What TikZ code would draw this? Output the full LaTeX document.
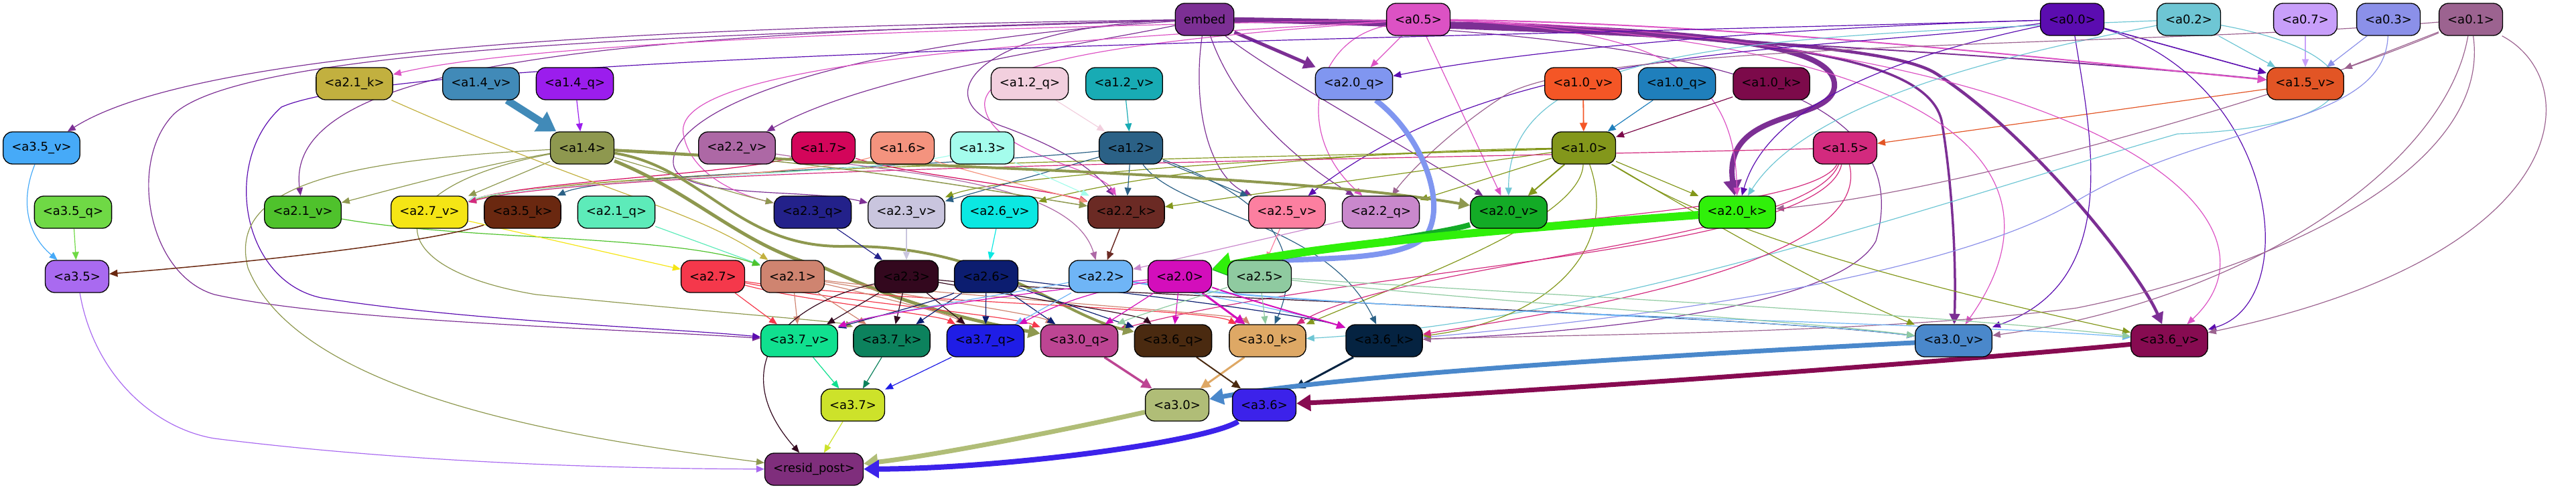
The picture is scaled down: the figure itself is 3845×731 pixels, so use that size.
\documentclass[tikz,border=0pt]{standalone}
\usepackage{fontspec}
\setmainfont{DejaVu Sans}
\usetikzlibrary{arrows.meta}
\pgfdeclarelayer{bg}
\pgfsetlayers{bg,main}
\definecolor{cembed}{HTML}{7C2F94}
\definecolor{ca05}{HTML}{DC52C4}
\definecolor{ca00}{HTML}{5B0CB0}
\definecolor{ca02}{HTML}{6EC6D4}
\definecolor{ca07}{HTML}{C89FFA}
\definecolor{ca03}{HTML}{8B90E9}
\definecolor{ca01}{HTML}{9C6390}
\definecolor{ca21k}{HTML}{C2B03F}
\definecolor{ca14v}{HTML}{418AB8}
\definecolor{ca14q}{HTML}{9B1DED}
\definecolor{ca12q}{HTML}{F2CFDE}
\definecolor{ca12v}{HTML}{18ABB4}
\definecolor{ca20q}{HTML}{8096F0}
\definecolor{ca10v}{HTML}{F45626}
\definecolor{ca10q}{HTML}{1F7FBC}
\definecolor{ca10k}{HTML}{7C0A4A}
\definecolor{ca15v}{HTML}{E25525}
\definecolor{ca35v}{HTML}{46AAF8}
\definecolor{ca14}{HTML}{8E984F}
\definecolor{ca22v}{HTML}{AD68A5}
\definecolor{ca17}{HTML}{D3055A}
\definecolor{ca16}{HTML}{F4937E}
\definecolor{ca13}{HTML}{A4FCEC}
\definecolor{ca12}{HTML}{2B6186}
\definecolor{ca10}{HTML}{83971B}
\definecolor{ca15}{HTML}{D32A7E}
\definecolor{ca35q}{HTML}{6FD945}
\definecolor{ca21v}{HTML}{4FC22C}
\definecolor{ca27v}{HTML}{F5E515}
\definecolor{ca35k}{HTML}{6A2810}
\definecolor{ca21q}{HTML}{5DEBB9}
\definecolor{ca23q}{HTML}{23218A}
\definecolor{ca23v}{HTML}{C9C5DE}
\definecolor{ca26v}{HTML}{0BE8E2}
\definecolor{ca22k}{HTML}{6B2A24}
\definecolor{ca25v}{HTML}{FC7FA0}
\definecolor{ca22q}{HTML}{C988CC}
\definecolor{ca20v}{HTML}{13AB26}
\definecolor{ca20k}{HTML}{30F00A}
\definecolor{ca35}{HTML}{A96AF0}
\definecolor{ca27}{HTML}{F5384B}
\definecolor{ca21}{HTML}{CF8470}
\definecolor{ca23}{HTML}{33081E}
\definecolor{ca26}{HTML}{0C1D70}
\definecolor{ca22}{HTML}{6FB5F6}
\definecolor{ca20}{HTML}{D30EBB}
\definecolor{ca25}{HTML}{8FCAA0}
\definecolor{ca37v}{HTML}{10E08F}
\definecolor{ca37k}{HTML}{0C825D}
\definecolor{ca37q}{HTML}{1F1DE6}
\definecolor{ca30q}{HTML}{BD4593}
\definecolor{ca36q}{HTML}{4A2A10}
\definecolor{ca30k}{HTML}{DEA865}
\definecolor{ca36k}{HTML}{052341}
\definecolor{ca30v}{HTML}{4A88CB}
\definecolor{ca36v}{HTML}{870B51}
\definecolor{ca37}{HTML}{CDE22A}
\definecolor{ca30}{HTML}{B0BD77}
\definecolor{ca36}{HTML}{3C22EA}
\definecolor{cresid}{HTML}{7F2E7C}
\tikzset{
  nd/.style={draw=black, line width=1.3pt, rounded corners=14pt, minimum height=48pt,
    inner xsep=12.5pt, inner ysep=0pt, font=\fontsize{18}{21}\selectfont, text=black},
  ed/.style 2 args={draw=#1, line width=#2, -{Triangle[length=10pt 1.6, width=7pt 2.4]}},
}
\begin{document}
\begin{tikzpicture}[x=1pt,y=-1pt]
\useasboundingbox (0,0) rectangle (3845,731);
% row 1
\node[nd, fill=cembed] (embed) at (1798,29) {embed};
\node[nd, fill=ca05] (a05) at (2117,29) {<a0.5>};
\node[nd, fill=ca00] (a00) at (3093,29) {<a0.0>};
\node[nd, fill=ca02] (a02) at (3267,29) {<a0.2>};
\node[nd, fill=ca07] (a07) at (3441,29) {<a0.7>};
\node[nd, fill=ca03] (a03) at (3565,29) {<a0.3>};
\node[nd, fill=ca01] (a01) at (3688,29) {<a0.1>};
% row 2
\node[nd, fill=ca21k] (a21k) at (529,125) {<a2.1\_k>};
\node[nd, fill=ca14v] (a14v) at (718,125) {<a1.4\_v>};
\node[nd, fill=ca14q] (a14q) at (858,125) {<a1.4\_q>};
\node[nd, fill=ca12q] (a12q) at (1537,125) {<a1.2\_q>};
\node[nd, fill=ca12v] (a12v) at (1678,125) {<a1.2\_v>};
\node[nd, fill=ca20q] (a20q) at (2021,125) {<a2.0\_q>};
\node[nd, fill=ca10v] (a10v) at (2363,125) {<a1.0\_v>};
\node[nd, fill=ca10q] (a10q) at (2503,125) {<a1.0\_q>};
\node[nd, fill=ca10k] (a10k) at (2644,125) {<a1.0\_k>};
\node[nd, fill=ca15v] (a15v) at (3441,125) {<a1.5\_v>};
% row 3
\node[nd, fill=ca35v] (a35v) at (62,221) {<a3.5\_v>};
\node[nd, fill=ca14] (a14) at (869,221) {<a1.4>};
\node[nd, fill=ca22v] (a22v) at (1100,221) {<a2.2\_v>};
\node[nd, fill=ca17] (a17) at (1229,221) {<a1.7>};
\node[nd, fill=ca16] (a16) at (1347,221) {<a1.6>};
\node[nd, fill=ca13] (a13) at (1466,221) {<a1.3>};
\node[nd, fill=ca12] (a12) at (1688,221) {<a1.2>};
\node[nd, fill=ca10] (a10) at (2364,221) {<a1.0>};
\node[nd, fill=ca15] (a15) at (2754,221) {<a1.5>};
% row 4
\node[nd, fill=ca35q] (a35q) at (109,317) {<a3.5\_q>};
\node[nd, fill=ca21v] (a21v) at (452,317) {<a2.1\_v>};
\node[nd, fill=ca27v] (a27v) at (641,317) {<a2.7\_v>};
\node[nd, fill=ca35k] (a35k) at (780,317) {<a3.5\_k>};
\node[nd, fill=ca21q] (a21q) at (920,317) {<a2.1\_q>};
\node[nd, fill=ca23q] (a23q) at (1213,317) {<a2.3\_q>};
\node[nd, fill=ca23v] (a23v) at (1353,317) {<a2.3\_v>};
\node[nd, fill=ca26v] (a26v) at (1492,317) {<a2.6\_v>};
\node[nd, fill=ca22k] (a22k) at (1681,317) {<a2.2\_k>};
\node[nd, fill=ca25v] (a25v) at (1921,317) {<a2.5\_v>};
\node[nd, fill=ca22q] (a22q) at (2061,317) {<a2.2\_q>};
\node[nd, fill=ca20v] (a20v) at (2252,317) {<a2.0\_v>};
\node[nd, fill=ca20k] (a20k) at (2593,317) {<a2.0\_k>};
% row 5
\node[nd, fill=ca35] (a35) at (115,413) {<a3.5>};
\node[nd, fill=ca27] (a27) at (1064,413) {<a2.7>};
\node[nd, fill=ca21] (a21) at (1183,413) {<a2.1>};
\node[nd, fill=ca23] (a23) at (1353,413) {<a2.3>};
\node[nd, fill=ca26] (a26) at (1472,413) {<a2.6>};
\node[nd, fill=ca22] (a22) at (1643,413) {<a2.2>};
\node[nd, fill=ca20] (a20) at (1761,413) {<a2.0>};
\node[nd, fill=ca25] (a25) at (1880,413) {<a2.5>};
% row 6
\node[nd, fill=ca37v] (a37v) at (1193,509) {<a3.7\_v>};
\node[nd, fill=ca37k] (a37k) at (1331,509) {<a3.7\_k>};
\node[nd, fill=ca37q] (a37q) at (1471,509) {<a3.7\_q>};
\node[nd, fill=ca30q] (a30q) at (1611,509) {<a3.0\_q>};
\node[nd, fill=ca36q] (a36q) at (1751,509) {<a3.6\_q>};
\node[nd, fill=ca30k] (a30k) at (1892,509) {<a3.0\_k>};
\node[nd, fill=ca36k] (a36k) at (2066,509) {<a3.6\_k>};
\node[nd, fill=ca30v] (a30v) at (2916,509) {<a3.0\_v>};
\node[nd, fill=ca36v] (a36v) at (3238,509) {<a3.6\_v>};
% row 7-8
\node[nd, fill=ca37] (a37) at (1273,605) {<a3.7>};
\node[nd, fill=ca30] (a30) at (1757,605) {<a3.0>};
\node[nd, fill=ca36] (a36) at (1887,605) {<a3.6>};
\node[nd, fill=cresid] (resid) at (1215,701) {<resid\_post>};

\begin{pgfonlayer}{bg}
% into a1.5_v
\draw[ed={cembed}{2pt}] (embed) .. controls (2400,45) and (3050,85) .. (a15v);
\draw[ed={ca05}{2pt}] (a05) .. controls (2600,35) and (3080,90) .. (a15v);
\draw[ed={ca00}{1.6pt}] (a00) -- (a15v);
\draw[ed={ca02}{1.2pt}] (a02) -- (a15v);
\draw[ed={ca07}{1.2pt}] (a07) -- (a15v);
\draw[ed={ca03}{1.2pt}] (a03) -- (a15v);
\draw[ed={ca01}{1.2pt}] (a01) -- (a15v);
\draw[ed={ca15v}{1.2pt}] (a15v) -- (a15);
% embed thick
\draw[ed={cembed}{5pt}] (embed) -- (a20q);
\draw[ed={cembed}{8pt}] (embed) .. controls (2450,40) and (2745,50) .. (2738,130) .. controls (2732,185) and (2570,160) .. (a20k);
\draw[ed={cembed}{4.5pt}] (embed) .. controls (2500,50) and (2820,65) .. (2890,110) .. controls (3030,200) and (3190,400) .. (a36v);
\draw[ed={cembed}{3.5pt}] (embed) .. controls (2500,45) and (2870,60) .. (2898,180) .. controls (2915,280) and (2920,400) .. (a30v);
% embed thin
\draw[ed={cembed}{1.2pt}] (embed) .. controls (1000,40) and (300,70) .. (a35v);
\draw[ed={cembed}{1.2pt}] (embed) .. controls (1000,50) and (420,80) .. (a21v);
\draw[ed={cembed}{1.2pt}] (embed) .. controls (1600,70) and (1300,110) .. (a22v);
\draw[ed={cembed}{1.2pt}] (embed) .. controls (1450,40) and (1380,150) .. (1500,190) .. controls (1580,220) and (1630,250) .. (a22k);
\draw[ed={cembed}{1.2pt}] (embed) .. controls (1780,150) and (1800,260) .. (a25v);
\draw[ed={cembed}{1.2pt}] (embed) .. controls (1840,150) and (1920,230) .. (a22q);
\draw[ed={cembed}{1.2pt}] (embed) .. controls (1900,110) and (2100,220) .. (a20v);
\draw[ed={cembed}{1.2pt}] (embed) .. controls (1300,60) and (1010,150) .. (1005,240) .. controls (1000,300) and (1200,280) .. (a23v);
\draw[ed={cembed}{1.2pt}] (embed) .. controls (1200,50) and (380,60) .. (260,170) .. controls (190,240) and (220,410) .. (320,440) .. controls (500,480) and (900,490) .. (a37v);
\draw[ed={cembed}{1.2pt}] (embed) .. controls (2600,50) and (2860,150) .. (2800,360) .. controls (2740,470) and (2300,500) .. (a36k);
% a0.5
\draw[ed={ca05}{1.2pt}] (a05) -- (a20q);
\draw[ed={ca05}{1.2pt}] (a05) .. controls (1960,60) and (1930,200) .. (a22q);
\draw[ed={ca05}{1.2pt}] (a05) -- (a20v);
\draw[ed={ca05}{1.2pt}] (a05) .. controls (2500,45) and (2590,120) .. (a20k);
\draw[ed={ca05}{1.2pt}] (a05) .. controls (1500,40) and (800,60) .. (a21k);
\draw[ed={ca05}{1.2pt}] (a05) .. controls (1600,60) and (1000,90) .. (1020,200) .. controls (1030,260) and (1100,290) .. (a23q);
\draw[ed={ca05}{1.2pt}] (a05) .. controls (1700,60) and (1460,90) .. (1470,160) .. controls (1480,230) and (1640,250) .. (a22k);
\draw[ed={ca05}{1.2pt}] (a05) .. controls (2900,60) and (3100,250) .. (a30v);
\draw[ed={ca05}{1.2pt}] (a05) .. controls (3150,60) and (3430,330) .. (a36v);
% a0.0
\draw[ed={ca00}{1.2pt}] (a00) .. controls (2700,40) and (2300,70) .. (a20q);
\draw[ed={ca00}{1.2pt}] (a00) .. controls (2700,80) and (2250,60) .. (a25v);
\draw[ed={ca00}{1.2pt}] (a00) .. controls (2850,80) and (2640,150) .. (a20k);
\draw[ed={ca00}{1.2pt}] (a00) .. controls (3120,200) and (3170,420) .. (a30v);
\draw[ed={ca00}{1.2pt}] (a00) .. controls (3400,120) and (3440,450) .. (a36v);
\draw[ed={ca00}{1.2pt}] (a00) .. controls (2000,60) and (600,80) .. (420,160) .. controls (330,240) and (360,420) .. (480,445) .. controls (700,480) and (1000,490) .. (a37v);
% a0.2, a0.3, a0.1
\draw[ed={ca02}{1.2pt}] (a02) .. controls (2600,55) and (2250,70) .. (a20v);
\draw[ed={ca02}{1.2pt}] (a02) .. controls (3000,80) and (2700,150) .. (a20k);
\draw[ed={ca02}{1.2pt}] (a02) .. controls (3550,80) and (3560,190) .. (3250,200) .. controls (2900,300) and (2400,480) .. (a30k);
\draw[ed={ca03}{1.2pt}] (a03) .. controls (3560,190) and (3300,180) .. (3100,300) .. controls (2900,420) and (2400,480) .. (a36k);
\draw[ed={ca01}{1.2pt}] (a01) .. controls (3400,150) and (2900,290) .. (a20k);
\draw[ed={ca01}{1.2pt}] (a01) .. controls (3200,70) and (2400,60) .. (2250,140) .. controls (2170,190) and (2100,260) .. (a22q);
\draw[ed={ca01}{1.2pt}] (a01) .. controls (3650,250) and (3350,450) .. (a30v);
\draw[ed={ca01}{1.2pt}] (a01) .. controls (3860,120) and (3850,380) .. (a36v);
\draw[ed={ca01}{1.2pt}] (a01) .. controls (3720,250) and (3400,400) .. (3100,460) .. controls (2800,500) and (2300,500) .. (a36k);
% a1.0
\draw[ed={ca10v}{1.8pt}] (a10v) -- (a10);
\draw[ed={ca10q}{1.2pt}] (a10q) -- (a10);
\draw[ed={ca10k}{1.2pt}] (a10k) -- (a10);
\draw[ed={ca10}{2pt}] (a10) -- (a20v);
\draw[ed={ca10}{1.2pt}] (a10) -- (a22q);
\draw[ed={ca10}{1.2pt}] (a10) -- (a20k);
\draw[ed={ca10}{1.2pt}] (a10) -- (a22k);
\draw[ed={ca10}{1.2pt}] (a10) .. controls (2000,225) and (1700,260) .. (a26v);
\draw[ed={ca10}{1.2pt}] (a10) .. controls (2000,230) and (1500,260) .. (a23v);
\draw[ed={ca10}{1.2pt}] (a10) .. controls (2000,235) and (900,245) .. (a27v);
\draw[ed={ca10}{1.2pt}] (a10) .. controls (2360,330) and (2100,420) .. (a30k);
\draw[ed={ca10}{1.2pt}] (a10) .. controls (2420,380) and (2300,480) .. (a36k);
\draw[ed={ca10}{1.2pt}] (a10) .. controls (2500,300) and (2700,420) .. (a30v);
\draw[ed={ca10}{1.2pt}] (a10) .. controls (2480,290) and (2600,370) .. (a36v);
% a1.2
\draw[ed={ca12v}{1.2pt}] (a12v) -- (a12);
\draw[ed={ca12q}{1.2pt}] (a12q) -- (a12);
\draw[ed={ca12}{1.2pt}] (a12) -- (a22k);
\draw[ed={ca12}{1.2pt}] (a12) -- (a23v);
\draw[ed={ca12}{1.2pt}] (a12) -- (a25v);
\draw[ed={ca12}{1.2pt}] (a12) .. controls (1400,250) and (900,260) .. (a35k);
\draw[ed={ca12}{1.2pt}] (a12) .. controls (1760,320) and (1980,330) .. (a36k);
\draw[ed={ca12}{1.2pt}] (a12) .. controls (1850,280) and (1960,350) .. (a30k);
% a1.7, a1.6, a1.3, a2.2_v
\draw[ed={ca17}{1.2pt}] (a17) .. controls (1350,260) and (1550,280) .. (a22k);
\draw[ed={ca17}{1.2pt}] (a17) .. controls (1100,260) and (800,270) .. (a27v);
\draw[ed={ca16}{1.2pt}] (a16) .. controls (1420,250) and (1580,290) .. (a22k);
\draw[ed={ca16}{1.2pt}] (a16) .. controls (1200,265) and (800,270) .. (a27v);
\draw[ed={ca13}{1.2pt}] (a13) -- (a22k);
\draw[ed={ca13}{1.2pt}] (a13) .. controls (1300,260) and (800,270) .. (a27v);
\draw[ed={ca22v}{1.2pt}] (a22v) .. controls (1350,260) and (1600,270) .. (a22);
% a1.5
\draw[ed={ca15}{1.2pt}] (a15) .. controls (2000,240) and (900,250) .. (a27v);
\draw[ed={ca15}{1.2pt}] (a15) .. controls (2700,330) and (2000,340) .. (a25);
\draw[ed={ca15}{1.2pt}] (a15) .. controls (2700,360) and (2100,390) .. (a30k);
\draw[ed={ca15}{1.2pt}] (a15) .. controls (2720,380) and (2000,400) .. (a30q);
\draw[ed={ca15}{1.2pt}] (a15) .. controls (2800,400) and (2300,470) .. (a36k);
% a1.4
\draw[ed={ca14q}{1.2pt}] (a14q) -- (a14);
\draw[ed={ca14v}{11pt}] (a14v) -- (a14);
\draw[ed={ca14}{5pt}] (a14) .. controls (1040,290) and (1110,370) .. (1230,400) .. controls (1320,440) and (1400,470) .. (a30q);
\draw[ed={ca14}{4pt}] (a14) .. controls (1050,250) and (1100,370) .. (1260,368) .. controls (1480,365) and (1580,470) .. (a36q);
\draw[ed={ca14}{4pt}] (a14) .. controls (1200,245) and (1900,255) .. (a20v);
\draw[ed={ca14}{1.5pt}] (a14) .. controls (1200,235) and (1450,280) .. (a22k);
\draw[ed={ca14}{1.2pt}] (a14) .. controls (700,250) and (560,290) .. (a21v);
\draw[ed={ca14}{1.2pt}] (a14) -- (a27v);
\draw[ed={ca14}{1.2pt}] (a14) .. controls (1000,260) and (1100,290) .. (a23q);
\draw[ed={ca14}{1.2pt}] (a14) .. controls (500,240) and (340,280) .. (370,400) .. controls (450,600) and (900,660) .. (resid);
\draw[ed={ca14}{1.2pt}] (a14) .. controls (560,280) and (560,400) .. (800,440) .. controls (1100,470) and (1250,480) .. (a37k);
% into a2.x
\draw[ed={ca21k}{1.2pt}] (a21k) .. controls (900,290) and (1030,310) .. (a21);
\draw[ed={ca21q}{1.2pt}] (a21q) -- (a21);
\draw[ed={ca21v}{1.2pt}] (a21v) .. controls (700,360) and (1000,350) .. (a21);
\draw[ed={ca27v}{1.2pt}] (a27v) -- (a27);
\draw[ed={ca23q}{1.2pt}] (a23q) -- (a23);
\draw[ed={ca23v}{1.2pt}] (a23v) -- (a23);
\draw[ed={ca26v}{1.2pt}] (a26v) -- (a26);
\draw[ed={ca22k}{1.5pt}] (a22k) -- (a22);
\draw[ed={ca22q}{1.2pt}] (a22q) -- (a22);
\draw[ed={ca25v}{1.2pt}] (a25v) -- (a25);
\draw[ed={ca20q}{8pt}] (a20q) .. controls (2120,200) and (2160,300) .. (2130,350) .. controls (2090,400) and (1900,380) .. (a20);
\draw[ed={ca20v}{8pt}] (a20v) .. controls (2150,350) and (1950,375) .. (a20);
\draw[ed={ca20k}{12pt}] (a20k) .. controls (2200,345) and (1950,370) .. (a20);
% a3.5
\draw[ed={ca35k}{1.5pt}] (a35k) .. controls (650,360) and (400,390) .. (a35);
\draw[ed={ca35v}{1.2pt}] (a35v) .. controls (30,300) and (40,350) .. (a35);
\draw[ed={ca35q}{1.2pt}] (a35q) -- (a35);
% a2.x -> a3.x
\draw[ed={ca27}{1.2pt}] (a27) -- (a37v);
\draw[ed={ca27}{1.2pt}] (a27) .. controls (1200,450) and (1400,470) .. (a37q);
\draw[ed={ca27}{1.2pt}] (a27) .. controls (1250,450) and (1500,470) .. (a30q);
\draw[ed={ca27}{1.2pt}] (a27) .. controls (1300,450) and (1800,460) .. (a30k);
\draw[ed={ca21}{1.2pt}] (a21) -- (a37v);
\draw[ed={ca21}{1.2pt}] (a21) -- (a37k);
\draw[ed={ca21}{1.2pt}] (a21) .. controls (1300,440) and (1420,470) .. (a37q);
\draw[ed={ca21}{1.2pt}] (a21) .. controls (1350,440) and (1550,470) .. (a30q);
\draw[ed={ca21}{1.2pt}] (a21) .. controls (1400,440) and (1850,470) .. (a30k);
\draw[ed={ca23}{1.2pt}] (a23) -- (a37v);
\draw[ed={ca23}{1.2pt}] (a23) -- (a37k);
\draw[ed={ca23}{1.2pt}] (a23) -- (a37q);
\draw[ed={ca23}{1.2pt}] (a23) .. controls (1500,440) and (1700,470) .. (a36q);
\draw[ed={ca23}{1.2pt}] (a23) .. controls (1600,440) and (2600,470) .. (a30v);
\draw[ed={ca26}{1.2pt}] (a26) .. controls (1400,450) and (1280,480) .. (a37v);
\draw[ed={ca26}{1.2pt}] (a26) -- (a37k);
\draw[ed={ca26}{1.2pt}] (a26) -- (a37q);
\draw[ed={ca26}{1.2pt}] (a26) -- (a30q);
\draw[ed={ca26}{1.2pt}] (a26) -- (a36q);
\draw[ed={ca26}{1.2pt}] (a26) .. controls (1700,440) and (1950,470) .. (a36k);
\draw[ed={ca22}{1.2pt}] (a22) .. controls (1500,440) and (1300,470) .. (a37v);
\draw[ed={ca22}{1.2pt}] (a22) -- (a37q);
\draw[ed={ca22}{1.2pt}] (a22) .. controls (1800,440) and (1950,470) .. (a36k);
\draw[ed={ca22}{1.2pt}] (a22) .. controls (1900,460) and (2600,470) .. (a30v);
\draw[ed={ca22}{1.2pt}] (a22) .. controls (2000,470) and (2900,480) .. (a36v);
\draw[ed={ca20}{1.2pt}] (a20) .. controls (1500,440) and (1300,470) .. (a37v);
\draw[ed={ca20}{1.2pt}] (a20) .. controls (1600,440) and (1550,470) .. (a37q);
\draw[ed={ca20}{1.2pt}] (a20) -- (a30q);
\draw[ed={ca20}{1.2pt}] (a20) -- (a36q);
\draw[ed={ca20}{3pt}] (a20) -- (a30k);
\draw[ed={ca20}{2pt}] (a20) .. controls (1900,460) and (1980,480) .. (a36k);
\draw[ed={ca25}{1.2pt}] (a25) -- (a30k);
\draw[ed={ca25}{1.2pt}] (a25) .. controls (1800,440) and (1700,470) .. (a30q);
\draw[ed={ca25}{1.2pt}] (a25) .. controls (2200,450) and (2700,480) .. (a30v);
\draw[ed={ca25}{1.2pt}] (a25) .. controls (2300,440) and (2900,470) .. (a36v);
% a3 layer
\draw[ed={ca37v}{1.2pt}] (a37v) -- (a37);
\draw[ed={ca37k}{1.2pt}] (a37k) -- (a37);
\draw[ed={ca37q}{1.2pt}] (a37q) -- (a37);
\draw[ed={ca30q}{3.5pt}] (a30q) -- (a30);
\draw[ed={ca30k}{3pt}] (a30k) -- (a30);
\draw[ed={ca36q}{2pt}] (a36q) -- (a36);
\draw[ed={ca36k}{3pt}] (a36k) -- (a36);
\draw[ed={ca30v}{7pt}] (a30v) .. controls (2500,530) and (2000,560) .. (a30);
\draw[ed={ca36v}{7pt}] (a36v) .. controls (2800,550) and (2200,590) .. (a36);
% into resid_post
\draw[ed={ca30}{7pt}] (a30) .. controls (1600,640) and (1400,680) .. (resid);
\draw[ed={ca36}{8pt}] (a36) .. controls (1800,660) and (1500,700) .. (resid);
\draw[ed={ca37}{1.2pt}] (a37) -- (resid);
\draw[ed={ca23}{1.2pt}] (a23) .. controls (1150,460) and (1090,560) .. (resid);
\draw[ed={ca35}{1.2pt}] (a35) .. controls (140,560) and (230,640) .. (320,655) .. controls (600,690) and (900,700) .. (resid);
\end{pgfonlayer}
\end{tikzpicture}
\end{document}
